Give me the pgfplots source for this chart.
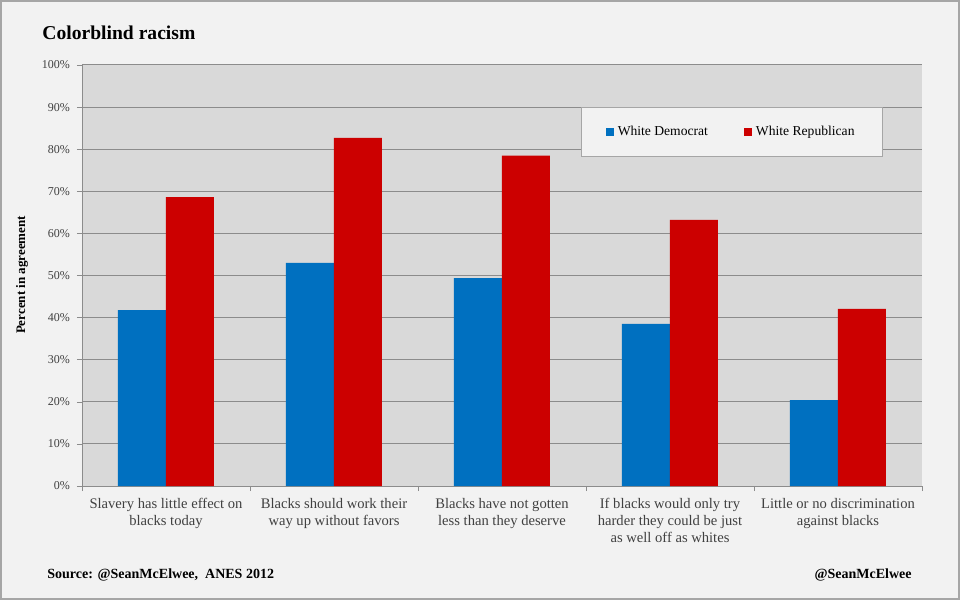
\documentclass[border=0pt]{standalone}
\usepackage{pgfplots}
\pgfplotsset{compat=1.18}
\usepackage{fontspec}
\setmainfont{Liberation Serif}
\definecolor{demblue}{HTML}{0070C0}
\definecolor{repred}{HTML}{CC0000}
\definecolor{plotbg}{HTML}{D9D9D9}
\definecolor{outerbg}{HTML}{F2F2F2}
\definecolor{gridgray}{HTML}{8C8C8C}
\definecolor{bordergray}{HTML}{A6A6A6}
\definecolor{labelgray}{HTML}{404040}

\begin{document}
\begin{tikzpicture}
% canvas 480pt x 300pt, axis box at (41pt,57pt)
\useasboundingbox (-41pt,-57pt) rectangle (439pt,243pt);
\fill[outerbg] (-41pt,-57pt) rectangle (439pt,243pt);
\draw[bordergray, line width=1pt] (-40.5pt,-56.5pt) rectangle (438.5pt,242.5pt);

\begin{axis}[
    at={(0pt,0pt)}, anchor=south west,
    scale only axis, width=420pt, height=210.5pt,
    xmin=-0.5, xmax=4.5, ymin=0, ymax=100,
    ybar=0pt, bar width=24pt,
    axis background/.style={fill=plotbg},
    axis x line*=bottom, axis y line*=left,
    axis line style={gridgray},
    ymajorgrids, grid style={gridgray, line width=0.5pt},
    ytick distance=10,
    yticklabel={\pgfmathprintnumber{\tick}\%},
    /pgf/number format/assume math mode=true,
    yticklabel style={font=\fontsize{6}{7}\selectfont, text=labelgray},
    tick align=outside, major tick length=2.5pt, minor tick length=2.5pt,
    tick style={gridgray},
    xtick={0,1,2,3,4},
    minor xtick={-0.5,0.5,1.5,2.5,3.5,4.5},
    major x tick style={draw=none},
    xticklabels={Slavery has little effect on\\blacks today,
                 Blacks should work their\\way up without favors,
                 Blacks have not gotten\\less than they deserve,
                 If blacks would only try\\harder they could be just\\as well off as whites,
                 Little or no discrimination\\against blacks},
    xticklabel style={font=\fontsize{7.3}{8.5}\selectfont,
                      align=center, text=labelgray},
    legend style={at={(0.774,0.841)}, anchor=center, fill=outerbg,
                  draw=bordergray, font=\fontsize{6.8}{8}\selectfont,
                  legend columns=2, inner xsep=12pt, inner ysep=7pt,
                  /tikz/every even column/.append style={column sep=16pt}},
    legend image code/.code={\fill[#1, draw=none] (0pt,-2pt) rectangle (4pt,2pt);},
]
\addplot[fill=demblue, draw=none] coordinates {(0,41.8) (1,53.0) (2,49.4) (3,38.5) (4,20.4)};
\addlegendentry{White Democrat}
\addplot[fill=repred, draw=none] coordinates {(0,68.6) (1,82.7) (2,78.5) (3,63.2) (4,42.1)};
\addlegendentry{White Republican}
\end{axis}

\node[anchor=west, inner sep=0pt, font=\bfseries\fontsize{9.8}{11}\selectfont] at (-20pt,226.5pt) {Colorblind racism};
\node[rotate=90, font=\bfseries\fontsize{6.5}{8}\selectfont] at (-30pt,105.5pt) {Percent in agreement};
\node[anchor=west, inner sep=0pt, font=\bfseries\fontsize{7}{8}\selectfont] at (-17.5pt,-44.5pt) {Source: @SeanMcElwee,\ \ ANES 2012};
\node[anchor=east, inner sep=0pt, font=\bfseries\fontsize{7}{8}\selectfont] at (415pt,-44.5pt) {@SeanMcElwee};
\end{tikzpicture}
\end{document}
